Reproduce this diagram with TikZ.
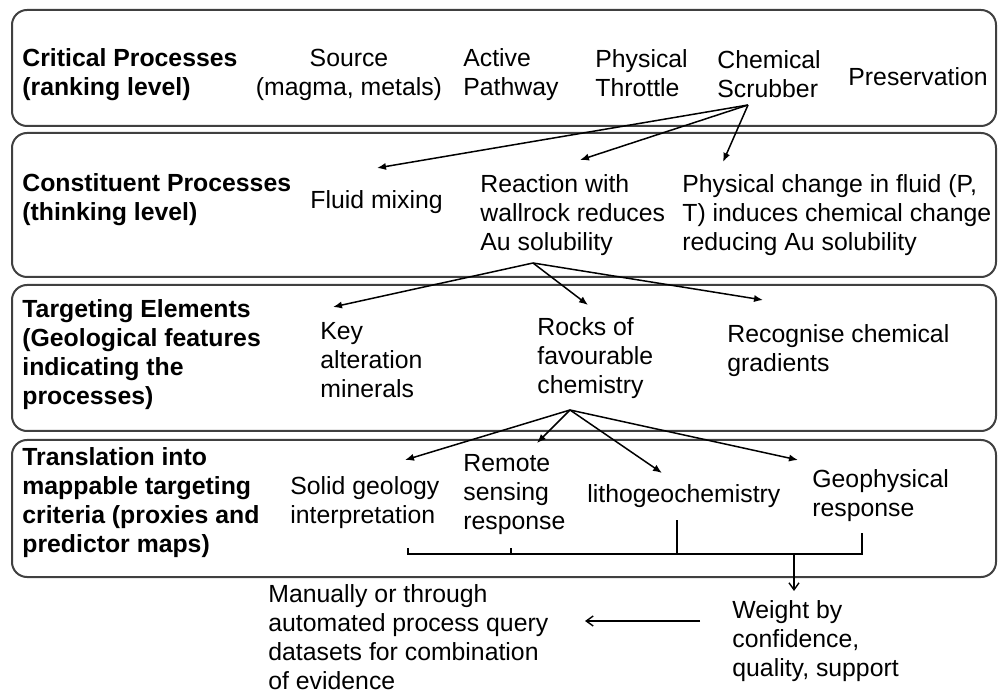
\documentclass[tikz,border=0pt]{standalone}
\usepackage{fontspec}
\setmainfont{Liberation Sans}
\usetikzlibrary{arrows.meta}
\tikzset{
  panel/.style={draw=black!75, line width=1pt, rounded corners=7.5pt},
  txt/.style={font=\fontsize{12.4}{14.5}\selectfont, align=left, anchor=west, inner sep=0pt},
  hd/.style={txt, font=\fontsize{12.4}{14.5}\selectfont\bfseries},
  arr/.style={line width=0.75pt, -{Latex[length=4.5pt,width=3.6pt]}},
  barb/.style={line width=0.7pt, -{Straight Barb[length=3.5pt,width=5pt]}},
  brk/.style={line width=0.7pt}
}
\begin{document}
\begin{tikzpicture}[x=0.5pt,y=-0.5pt]
\useasboundingbox (0,0) rectangle (1000,694);
\fill[white] (0,0) rectangle (1000,694);
% panels
\draw[panel] (12,10) rectangle (996,126);
\draw[panel] (12,133) rectangle (996,277);
\draw[panel] (12,285) rectangle (996,431);
\draw[panel] (12,440) rectangle (996,577);
% row 1
\node[hd] (cp) at (22,75) {Critical Processes\\(ranking level)};
\node[txt, align=center, anchor=center] (src) at (349,75) {Source\\(magma, metals)};
\node[txt] (ap) at (463,75) {Active\\Pathway};
\node[txt] (pt) at (595,73) {Physical\\Throttle};
\node[txt] (cs) at (717,74) {Chemical\\Scrubber};
\node[txt] (pres) at (848,77) {Preservation};
% row 2
\node[hd] (cop) at (22,200) {Constituent Processes\\(thinking level)};
\node[txt] (fm) at (310,202) {Fluid mixing};
\node[txt] (rw) at (480,215) {Reaction with\\wallrock reduces\\Au solubility};
\node[txt] (pc) at (682,215) {Physical change in fluid (P,\\T) induces chemical change\\reducing Au solubility};
% row 3
\node[hd] (te) at (22,355) {Targeting Elements\\(Geological features\\indicating the\\processes)};
\node[txt] (kam) at (320,360) {Key\\alteration\\minerals};
\node[txt] (rfc) at (537,358) {Rocks of\\favourable\\chemistry};
\node[txt] (rcg) at (727,351) {Recognise chemical\\gradients};
% row 4
\node[hd] (tr) at (22,503) {Translation into\\mappable targeting\\criteria (proxies and\\predictor maps)};
\node[txt] (sg) at (290,503) {Solid geology\\interpretation};
\node[txt] (rs) at (463,495) {Remote\\sensing\\response};
\node[txt] (lg) at (587,496) {lithogeochemistry};
\node[txt] (gp) at (812,496) {Geophysical\\response};
% bottom
\node[txt] (man) at (268,637) {Manually or through\\automated process query\\datasets for combination\\of evidence};
\node[txt] (wt) at (732,641) {Weight by\\confidence,\\quality, support};
% arrow points
\coordinate (a1) at (748,105);
\coordinate (t-fm) at (377,168);
\coordinate (t-rw) at (580,160);
\coordinate (t-pc) at (723,162);
\coordinate (a2) at (533,263);
\coordinate (t-kam) at (333,307);
\coordinate (t-rfc) at (588,305);
\coordinate (t-rcg) at (763,300);
\coordinate (a3) at (570,410);
\coordinate (t-sg) at (405,460);
\coordinate (t-rs) at (537,443);
\coordinate (t-lg) at (662,473);
\coordinate (t-gp) at (798,460);
\draw[arr] (a1) -- (t-fm);
\draw[arr] (a1) -- (t-rw);
\draw[arr] (a1) -- (t-pc);
\draw[arr] (a2) -- (t-kam);
\draw[arr] (a2) -- (t-rfc);
\draw[arr] (a2) -- (t-rcg);
\draw[arr] (a3) -- (t-sg);
\draw[arr] (a3) -- (t-rs);
\draw[arr] (a3) -- (t-lg);
\draw[arr] (a3) -- (t-gp);
% bracket
\coordinate (k1) at (408,548);
\coordinate (k1b) at (408,554);
\coordinate (k4b) at (862,554);
\coordinate (k4) at (862,533);
\coordinate (k2) at (511,548);
\coordinate (k2b) at (511,554);
\coordinate (k3) at (677,520);
\coordinate (k3b) at (677,554);
\coordinate (j) at (794,554);
\coordinate (t-wt) at (794,591);
\coordinate (h1) at (700,621);
\coordinate (h2) at (585,621);
\draw[brk] (k1) -- (k1b) -- (k4b) -- (k4);
\draw[brk] (k2) -- (k2b);
\draw[brk] (k3) -- (k3b);
\draw[barb] (j) -- (t-wt);
\draw[barb] (h1) -- (h2);
\end{tikzpicture}
\end{document}
